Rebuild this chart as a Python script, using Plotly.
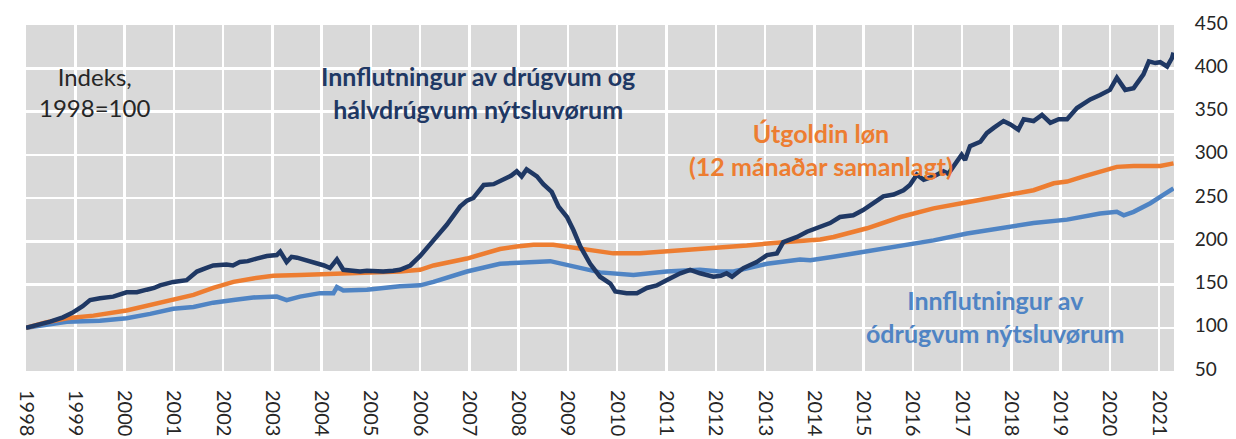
import plotly.graph_objects as go

# ---- data (index, 1998=100) ----
navy_years = [1998.00, 1998.25, 1998.49, 1998.75, 1998.93, 1999.15, 1999.30, 1999.50, 1999.77, 2000.04,
              2000.25, 2000.45, 2000.60, 2000.72, 2000.99, 2001.26, 2001.47, 2001.65, 2001.80, 2002.07,
              2002.20, 2002.34, 2002.50, 2002.68, 2002.89, 2003.09, 2003.16, 2003.29, 2003.39, 2003.50,
              2003.63, 2003.90, 2004.05, 2004.17, 2004.31, 2004.44, 2004.60, 2004.78, 2004.92, 2005.10,
              2005.25, 2005.45, 2005.59, 2005.80, 2006.00, 2006.27, 2006.54, 2006.81, 2006.95, 2007.08,
              2007.29, 2007.49, 2007.69, 2007.85, 2007.96, 2008.06, 2008.16, 2008.30, 2008.37, 2008.50,
              2008.67, 2008.81, 2008.98, 2009.11, 2009.25, 2009.45, 2009.65, 2009.86, 2009.96, 2010.19,
              2010.40, 2010.60, 2010.80, 2011.00, 2011.28, 2011.48, 2011.68, 2011.95, 2012.10, 2012.22,
              2012.33, 2012.56, 2012.83, 2013.04, 2013.24, 2013.37, 2013.65, 2013.85, 2014.12, 2014.32,
              2014.52, 2014.79, 2014.99, 2015.20, 2015.40, 2015.61, 2015.81, 2015.94, 2016.08, 2016.22,
              2016.42, 2016.62, 2016.72, 2016.89, 2016.99, 2017.06, 2017.16, 2017.37, 2017.50, 2017.64,
              2017.84, 2017.98, 2018.14, 2018.25, 2018.45, 2018.62, 2018.79, 2018.96, 2019.13, 2019.33,
              2019.43, 2019.60, 2019.80, 2020.00, 2020.14, 2020.31, 2020.48, 2020.68, 2020.79, 2020.92,
              2021.02, 2021.16, 2021.26, 2021.29]
navy_values = [100, 103, 107, 112, 117, 125, 132, 134, 136, 141,
               141, 144, 146, 149, 153, 155, 165, 169, 172, 173,
               172, 176, 177, 180, 183, 184, 188, 176, 182, 181,
               179, 174, 172, 169, 179, 167, 166, 165, 166, 165,
               165, 166, 167, 172, 183, 201, 219, 240, 247, 250,
               265, 266, 271, 276, 281, 275, 283, 278, 275, 266,
               257, 240, 228, 213, 194, 174, 159, 151, 142, 140,
               140, 146, 149, 155, 163, 167, 163, 159, 160, 163,
               159, 169, 176, 184, 186, 199, 205, 211, 217, 221,
               228, 230, 236, 244, 252, 254, 259, 265, 277, 271,
               275, 281, 278, 292, 300, 294, 310, 315, 325, 331,
               339, 335, 329, 341, 339, 346, 337, 341, 341, 354,
               358, 364, 369, 375, 389, 375, 377, 393, 408, 406,
               407, 402, 412, 418]

orange_years = [1998.00, 1998.40, 1998.83, 1999.37, 2000.04, 2000.52, 2000.99, 2001.40, 2001.80, 2002.21,
                2002.61, 2003.02, 2003.56, 2004.24, 2004.92, 2005.59, 2006.00, 2006.27, 2006.95, 2007.62,
                2007.96, 2008.30, 2008.70, 2009.11, 2009.51, 2009.92, 2010.46, 2011.00, 2011.54, 2012.08,
                2012.63, 2013.17, 2013.71, 2014.12, 2014.39, 2015.07, 2015.75, 2016.42, 2017.10, 2017.78,
                2018.45, 2018.86, 2019.13, 2019.47, 2019.80, 2020.14, 2020.48, 2021.02, 2021.29]
orange_values = [100, 106, 111, 114, 120, 126, 132, 138, 146, 153,
                 157, 160, 161, 162, 164, 165, 167, 172, 180, 191,
                 194, 196, 196, 193, 189, 186, 186, 188, 190, 192,
                 195, 198, 201, 202, 205, 215, 228, 238, 245, 252,
                 259, 267, 269, 275, 281, 286, 287, 287, 290]

light_years = [1998.00, 1998.40, 1998.83, 1999.50, 2000.04, 2000.52, 2000.99, 2001.40, 2001.80, 2002.21,
               2002.61, 2003.09, 2003.29, 2003.56, 2003.97, 2004.24, 2004.31, 2004.44, 2004.92, 2005.59,
               2006.00, 2006.27, 2006.95, 2007.62, 2008.30, 2008.64, 2009.11, 2009.65, 2010.33, 2011.00,
               2011.68, 2012.08, 2012.36, 2013.04, 2013.71, 2013.92, 2014.39, 2015.07, 2015.75, 2016.42,
               2017.10, 2017.78, 2018.45, 2019.13, 2019.80, 2020.14, 2020.28, 2020.48, 2020.82, 2021.09,
               2021.29]
light_values = [100, 104, 107, 108, 111, 116, 122, 124, 129, 132,
                135, 136, 132, 136, 140, 140, 147, 143, 144, 148,
                149, 153, 165, 174, 176, 177, 171, 164, 161, 165,
                167, 165, 165, 174, 179, 178, 182, 188, 194, 201,
                209, 215, 221, 225, 232, 234, 230, 234, 244, 254,
                261]

year_ticks = list(range(1998, 2022))
year_labels = [str(y) for y in year_ticks]
y_ticks = [50, 100, 150, 200, 250, 300, 350, 400, 450]

NAVY = "#1F3864"
ORANGE = "#ED7D31"
LIGHT = "#4F84C4"

fig = go.Figure()
fig.add_trace(go.Scatter(x=light_years, y=light_values, mode="lines",
                         line=dict(color=LIGHT, width=4.5), hoverinfo="skip"))
fig.add_trace(go.Scatter(x=orange_years, y=orange_values, mode="lines",
                         line=dict(color=ORANGE, width=4.5), hoverinfo="skip"))
fig.add_trace(go.Scatter(x=navy_years, y=navy_values, mode="lines",
                         line=dict(color=NAVY, width=4.5), hoverinfo="skip"))

ann_font = "Lato, 'Open Sans', sans-serif"
fig.add_annotation(x=1999.40, y=372, text="Indeks,<br>1998=100", showarrow=False,
                   font=dict(family=ann_font, size=24, color="#262626"), align="center")
fig.add_annotation(x=2007.18, y=372, text="<b>Innflutningur av drúgvum og<br>hálvdrúgvum nýtsluvørum</b>",
                   showarrow=False, font=dict(family=ann_font, size=25, color=NAVY), align="center")
fig.add_annotation(x=2014.14, y=306, text="<b>Útgoldin løn<br>(12 mánaðar samanlagt)</b>",
                   showarrow=False, font=dict(family=ann_font, size=25, color=ORANGE), align="center")
fig.add_annotation(x=2017.67, y=113, text="<b>Innflutningur av<br>ódrúgvum nýtsluvørum</b>",
                   showarrow=False, font=dict(family=ann_font, size=25, color=LIGHT), align="center")

fig.update_layout(
    width=1236, height=439,
    margin=dict(l=26, r=62, t=25, b=68),
    paper_bgcolor="white",
    plot_bgcolor="#D9D9D9",
    showlegend=False,
    xaxis=dict(range=[1998, 2021.3], tickvals=year_ticks, ticktext=year_labels,
               tickangle=90, showgrid=True, gridcolor="white", gridwidth=2.5,
               zeroline=False, showline=False, ticks="outside", ticklen=14,
               tickcolor="rgba(0,0,0,0)", automargin=False,
               tickfont=dict(family="Lato, sans-serif", size=20, color="#262626")),
    yaxis=dict(range=[50, 450], tickvals=y_ticks, side="right",
               showgrid=True, gridcolor="white", gridwidth=2.5,
               zeroline=False, showline=False, ticks="outside", ticklen=16,
               tickcolor="rgba(0,0,0,0)", automargin=False, ticklabelshift=-2,
               tickfont=dict(family="Lato, sans-serif", size=19, color="#262626")),
)

fig.write_html("out.html", config={"displayModeBar": False, "staticPlot": True},
               post_script="document.body.style.margin='0';document.body.style.overflow='hidden';")
